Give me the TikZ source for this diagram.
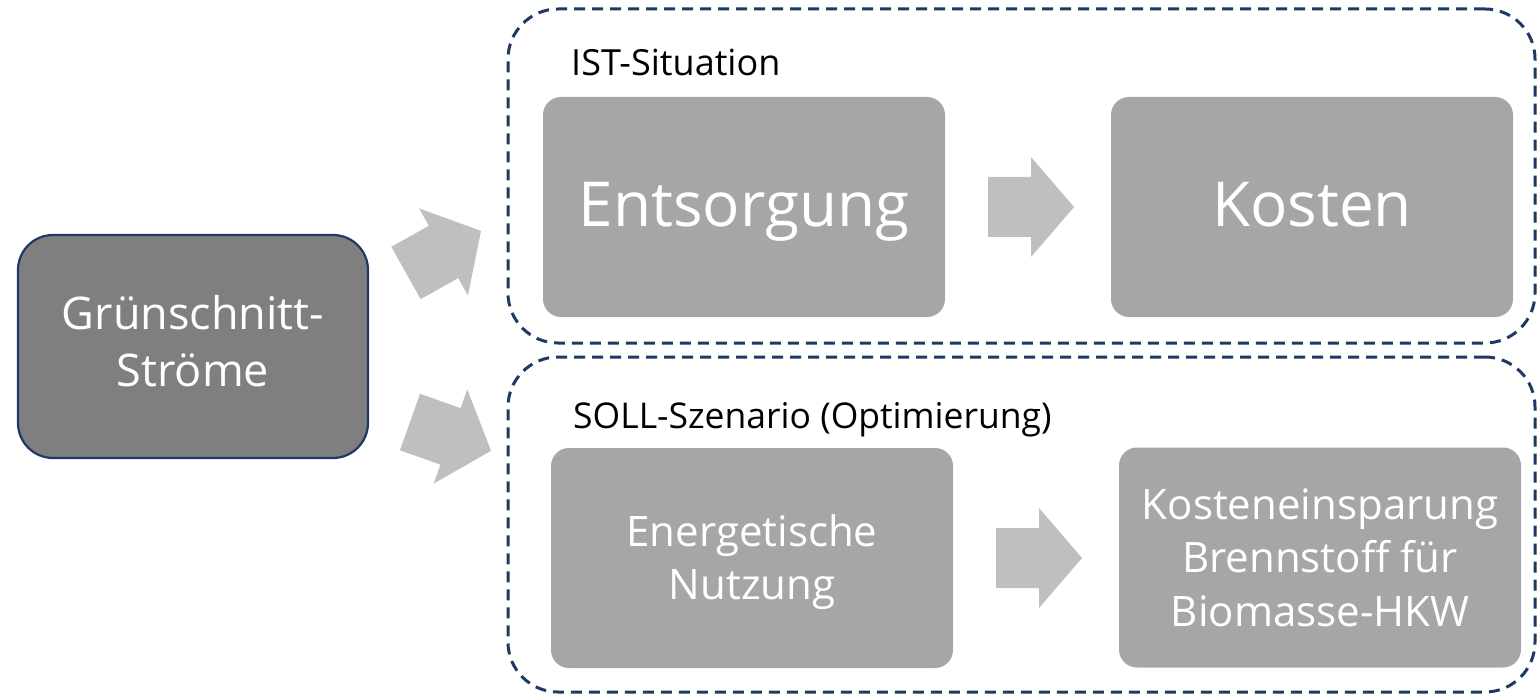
\documentclass[tikz,border=0pt]{standalone}
\usepackage{fontspec}
\setmainfont{Open Sans}
\usetikzlibrary{calc}
\definecolor{navy}{HTML}{1F3864}
\definecolor{darkbox}{HTML}{7F7F7F}
\definecolor{lightbox}{HTML}{A6A6A6}
\definecolor{arrowgray}{HTML}{BFBFBF}
\tikzset{
  blockarrow/.pic={
    \fill[arrowgray] (0,-30) -- (43,-30) -- (43,-50) -- (86,0)
      -- (43,50) -- (43,30) -- (0,30) -- cycle;
  }
}
\begin{document}
\begin{tikzpicture}[x=1pt,y=-1pt,
  source/.style={draw=navy, line width=2.2pt, fill=darkbox, rounded corners=35pt,
    minimum width=350pt, minimum height=223pt, inner sep=0pt},
  stage/.style={fill=lightbox, rounded corners=18pt,
    minimum width=402pt, minimum height=220pt, inner sep=0pt},
  frame/.style={draw=navy, line width=3pt, dash pattern=on 11pt off 7pt,
    rounded corners=50pt, inner sep=0pt},
  boxtext/.style={text=white, align=center, inner sep=0pt},
  bigfont/.style={font=\fontsize{62}{74}\selectfont},
  midfont/.style={font=\fontsize{42}{53.5}\selectfont},
  srcfont/.style={font=\fontsize{45}{57}\selectfont},
  headfont/.style={text=black, inner sep=0pt}
]
\useasboundingbox (0,0) rectangle (1537,695);

% dashed scenario frames
\node[frame, minimum width=1027pt, minimum height=334pt] (ist) at (1021.5,176) {};
\node[frame, minimum width=1027pt, minimum height=335pt] (soll) at (1021.5,524.5) {};

% source
\node[source] (src) at (193,346.5) {};
\node[boxtext, srcfont] (srct) at ($(src)+(0,-5)$) {Grünschnitt-\\Ströme};

% stage boxes
\node[stage] (ents) at (744,207) {};
\node[stage] (kost) at (1312,207) {};
\node[stage] (nutz) at (752,558) {};
\node[stage] (spar) at (1320,557.5) {};

\node[boxtext, bigfont, anchor=base] (entst) at ($(ents)+(0,20)$) {Entsorgung};
\node[boxtext, bigfont, anchor=base] (kostt) at ($(kost)+(0,20)$) {Kosten};
\node[boxtext, midfont] (nutzt) at ($(nutz)+(0,4)$) {Energetische\\Nutzung};
\node[boxtext, midfont] (spart) at (spar) {Kosteneinsparung\\Brennstoff für\\Biomasse-HKW};

% frame headings
\node[headfont, font=\fontsize{36}{43}\selectfont, anchor=base west] (isth) at (571,76) {IST-Situation};
\node[headfont, font=\fontsize{35.5}{43}\selectfont, anchor=base west] (sollh) at (573,428) {SOLL-Szenario (Optimierung)};

% block arrows
\pic[rotate=29.3] at (406,273) {blockarrow};
\pic[rotate=-19.6] at (410,422) {blockarrow};
\pic at (988,207) {blockarrow};
\pic at (996,558) {blockarrow};
\end{tikzpicture}
\end{document}
